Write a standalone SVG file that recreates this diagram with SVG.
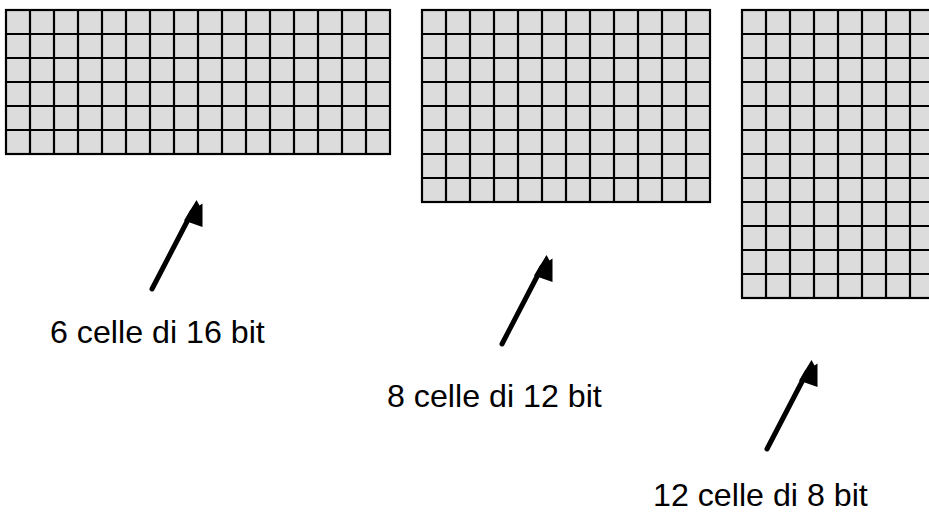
<svg xmlns="http://www.w3.org/2000/svg" width="929" height="514" viewBox="0 0 929 514">
  <defs>
    <style>
      .cell { fill: #dcdcdc; stroke: none; }
      .grid { fill: none; stroke: #000; stroke-width: 2.2; }
      .shaft { stroke: #000; stroke-width: 5; stroke-linecap: round; fill: none; }
      .head { fill: #000; stroke: none; }
      .label { font-family: "Liberation Sans", Arial, sans-serif; font-size: 32.2px; fill: #000; }
    </style>
    <g id="arrow">
      <line class="shaft" x1="152" y1="289" x2="192" y2="212"/>
      <polygon class="head" points="196.5,200 199.5,205.5 202.5,203.5 202.5,227 184,220.5"/>
    </g>
  </defs>

  <!-- memory grids: 6x16, 8x12, 12x8 cells of 24px -->
  <g id="grid-6x16">
    <rect class="cell" x="6" y="10" width="384" height="144"/>
    <path class="grid" d="M30 10V154M54 10V154M78 10V154M102 10V154M126 10V154M150 10V154M174 10V154M198 10V154M222 10V154M246 10V154M270 10V154M294 10V154M318 10V154M342 10V154M366 10V154
                          M6 34H390M6 58H390M6 82H390M6 106H390M6 130H390"/>
    <rect class="grid" x="6" y="10" width="384" height="144"/>
  </g>
  <g id="grid-8x12">
    <rect class="cell" x="422" y="10" width="288" height="192"/>
    <path class="grid" d="M446 10V202M470 10V202M494 10V202M518 10V202M542 10V202M566 10V202M590 10V202M614 10V202M638 10V202M662 10V202M686 10V202
                          M422 34H710M422 58H710M422 82H710M422 106H710M422 130H710M422 154H710M422 178H710"/>
    <rect class="grid" x="422" y="10" width="288" height="192"/>
  </g>
  <g id="grid-12x8">
    <rect class="cell" x="742" y="10" width="192" height="288"/>
    <path class="grid" d="M766 10V298M790 10V298M814 10V298M838 10V298M862 10V298M886 10V298M910 10V298
                          M742 34H934M742 58H934M742 82H934M742 106H934M742 130H934M742 154H934M742 178H934M742 202H934M742 226H934M742 250H934M742 274H934"/>
    <rect class="grid" x="742" y="10" width="192" height="288"/>
  </g>

  <!-- pointers from labels to grids -->
  <g id="connectors">
    <use href="#arrow"/>
    <use href="#arrow" transform="translate(350,55)"/>
    <use href="#arrow" transform="translate(615,160)"/>
  </g>

  <g id="label-1"><text class="label" x="50" y="343">6 celle di 16 bit</text></g>
  <g id="label-2"><text class="label" x="387" y="407">8 celle di 12 bit</text></g>
  <g id="label-3"><text class="label" x="653" y="506">12 celle di 8 bit</text></g>
</svg>
